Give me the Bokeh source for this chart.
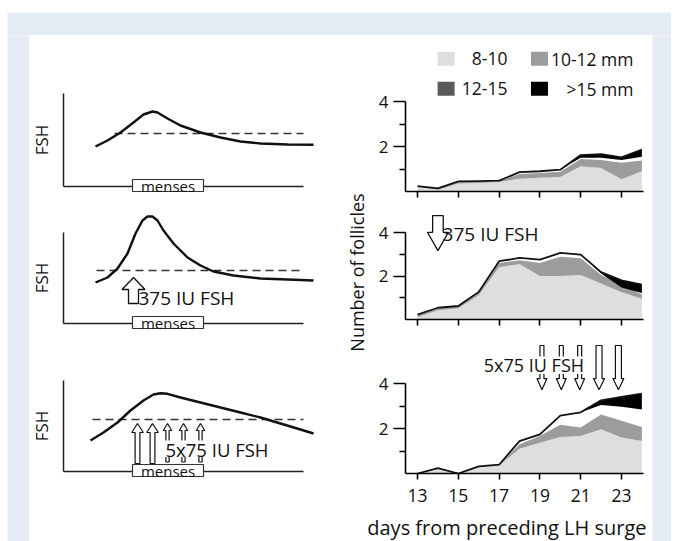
import math
from bokeh.plotting import figure
from bokeh.layouts import column, row
from bokeh.models import Spacer, Range1d, FixedTicker, LinearAxis
from bokeh.core.properties import value
from bokeh.embed import file_html
from bokeh.resources import INLINE

FONT = "Open Sans"
BLUE = "#e4ebf5"
LIGHT = "#dedede"
MED = "#9c9c9c"
DARK = "#5a5a5a"
BLACK = "#000000"
INK = "#111111"

# ---------------- data: right panels (number of follicles) ----------------
days = [13, 14, 15, 16, 17, 18, 19, 20, 21, 22, 23, 24]
day_ticks = [13, 15, 17, 19, 21, 23]
count_ticks = [2, 4]
count_minor = [1, 3]

# cumulative boundaries of the stacked areas, panel A (no treatment)
a_light = [0.20, 0.08, 0.36, 0.38, 0.42, 0.57, 0.61, 0.65, 1.12, 1.05, 0.54, 0.90]
a_med = [0.22, 0.12, 0.42, 0.44, 0.46, 0.78, 0.82, 0.88, 1.45, 1.40, 1.28, 1.38]
a_black_bot = [0.24, 0.14, 0.45, 0.46, 0.48, 0.86, 0.90, 0.97, 1.50, 1.50, 1.40, 1.55]
a_total = [0.24, 0.14, 0.45, 0.46, 0.48, 0.86, 0.90, 0.97, 1.62, 1.66, 1.52, 1.86]

# panel B (375 IU FSH on day 14)
b_light = [0.10, 0.42, 0.52, 1.12, 2.40, 2.55, 2.00, 2.00, 2.05, 1.65, 1.25, 0.95]
b_med = [0.18, 0.50, 0.60, 1.20, 2.60, 2.72, 2.60, 2.88, 2.82, 2.05, 1.60, 1.15]
b_black_bot = [0.22, 0.54, 0.62, 1.26, 2.68, 2.83, 2.75, 3.06, 2.98, 2.12, 1.47, 1.22]
b_total = [0.22, 0.54, 0.62, 1.26, 2.68, 2.83, 2.75, 3.06, 2.98, 2.18, 1.80, 1.60]

# panel C (5 x 75 IU FSH)
c_light = [0.00, 0.20, 0.00, 0.28, 0.35, 1.10, 1.37, 1.62, 1.67, 1.97, 1.60, 1.44]
c_med = [0.00, 0.22, 0.00, 0.30, 0.37, 1.30, 1.67, 2.17, 2.05, 2.62, 2.35, 2.07]
c_black_bot = [0.00, 0.24, 0.00, 0.32, 0.39, 1.44, 1.74, 2.57, 2.72, 3.05, 2.97, 2.84]
c_total = [0.00, 0.24, 0.00, 0.32, 0.39, 1.44, 1.74, 2.57, 2.72, 3.25, 3.40, 3.55]

b_inj_day = [14.0]
c_inj_day = [19.1, 20.05, 20.95, 21.9, 22.85]
c_inj_long = [False, False, False, True, True]

legend_labels = ["8-10", "10-12 mm", "12-15", ">15 mm"]
legend_colors = [LIGHT, MED, DARK, BLACK]

# ---------------- data: left schematic panels (FSH course) ----------------
fsh1_x = [32, 44, 57, 70, 80, 89, 94, 104, 117, 137, 157, 177, 197, 224, 250]
fsh1_y = [40, 46, 54, 64, 72, 75, 74, 68, 61, 54, 49, 45, 43, 42, 41.7]
fsh2_x = [32, 44, 54, 64, 72, 79, 84, 89, 94, 100, 110, 124, 137, 150, 170, 197, 224, 250]
fsh2_y = [41, 46, 55, 70, 90, 103, 107, 107, 103, 93, 80, 66, 58, 52, 48, 45, 44, 43]
fsh3_x = [27, 40, 54, 67, 80, 90, 97, 104, 117, 137, 157, 177, 197, 217, 237, 250]
fsh3_y = [31, 39, 49, 61, 71, 77, 78.3, 77.7, 74, 69, 64, 59, 54, 48, 42, 38]
threshold = [53, 53, 52]
threshold_start = [51, 33, 29]
threshold_end = 240
menses_start, menses_end = 69, 140
fsh_axis_len = [93, 91, 91]
inj2_x = [70]
inj3_x = [74, 89, 104, 120, 137]
inj3_long = [True, True, False, False, False]


def arrow(xc, tail, base, tip, shw, hhw):
    return ([xc - shw, xc - shw, xc - hhw, xc, xc + hhw, xc + shw, xc + shw],
            [tail, base, base, tip, base, base, tail])


def txt(p, x, y, s, size, align="left", baseline="middle", angle=0.0, level="glyph"):
    r = p.text(x=[x], y=[y], text=[s], text_font=value(FONT), text_font_size=value(size),
               text_align=align, text_baseline=baseline, text_color=INK, angle=angle)
    r.level = level
    return r


def blank(w, h, color):
    p = figure(width=w, height=h, x_axis_type=None, y_axis_type=None, toolbar_location=None,
               output_backend="svg", min_border=0, background_fill_color=color,
               border_fill_color=color, outline_line_color=None)
    return p


# ---------------- left panels ----------------
def left_panel(idx, h, y_lo, xs, ys):
    p = figure(width=306, height=h, x_range=Range1d(-34, 272), y_range=Range1d(y_lo, y_lo + h),
               x_axis_type=None, y_axis_type=None, toolbar_location=None, output_backend="svg",
               min_border=0, outline_line_color=None)
    xa = LinearAxis(fixed_location=0, bounds=(0, 240), ticker=FixedTicker(ticks=[]),
                    major_tick_out=0, major_tick_in=0, major_label_standoff=0,
                    axis_line_width=1.5, axis_line_color="#222222")
    p.add_layout(xa, "below")
    ya = LinearAxis(fixed_location=0, bounds=(0, fsh_axis_len[idx]), ticker=FixedTicker(ticks=[]),
                    major_tick_out=0, major_tick_in=0, major_label_standoff=0,
                    axis_line_width=1.5, axis_line_color="#222222",
                    axis_label="FSH", axis_label_text_font=FONT, axis_label_text_font_size="17px",
                    axis_label_text_font_style="normal", axis_label_text_color=INK,
                    axis_label_standoff=11)
    p.add_layout(ya, "left")
    p.line([threshold_start[idx], threshold_end], [threshold[idx], threshold[idx]],
           line_color="#333333", line_width=1.5, line_dash="8 5")
    p.line(xs, ys, line_color=INK, line_width=2.4, line_join="round")
    box = p.quad(left=[menses_start], right=[menses_end], bottom=[-5], top=[7],
                 fill_color="white", line_color="#333333", line_width=1.2)
    box.level = "overlay"
    txt(p, (menses_start + menses_end) / 2, 1, "menses", "15px", align="center", level="overlay")
    return p


l1 = left_panel(0, 165, -14, fsh1_x, fsh1_y)
l2 = left_panel(1, 140, -17, fsh2_x, fsh2_y)
l3 = left_panel(2, 201, -70, fsh3_x, fsh3_y)

ax, ay = [], []
for xc in inj2_x:
    a = arrow(xc, 20, 34, 46, 5, 11.5)
    ax.append(a[0]); ay.append(a[1])
l2.patches(ax, ay, fill_color="white", line_color=INK, line_width=1.3)
txt(l2, 75, 26, "375 IU FSH", "19px")

ax, ay = [], []
for xc, lg in zip(inj3_x, inj3_long):
    if lg:
        a = arrow(xc, 8, 39, 48, 2.4, 5.8)
    else:
        a = arrow(xc, 9.5, 41, 48, 1.6, 4.2)
    ax.append(a[0]); ay.append(a[1])
l3.patches(ax, ay, fill_color="white", line_color=INK, line_width=1.2)
l3.quad(left=[100], right=[207], bottom=[14.5], top=[31], fill_color="white", line_color=None)
txt(l3, 102, 22.5, "5x75 IU FSH", "18.5px")

# ---------------- right panels ----------------
XR = (12.41, 24.08)
PXD = 1 / 20.4


def right_panel(h, bottom_border, ymax, light, med, black_bot, total, last=False):
    p = figure(width=282, height=h, x_range=Range1d(*XR), y_range=Range1d(0, ymax),
               toolbar_location=None, output_backend="svg",
               min_border_left=35, min_border_right=9, min_border_top=0,
               min_border_bottom=bottom_border, outline_line_color=None)
    p.grid.visible = False
    p.varea(x=days, y1=[0] * len(days), y2=light, fill_color=LIGHT)
    p.varea(x=days, y1=light, y2=med, fill_color=MED)
    p.varea(x=days, y1=black_bot, y2=total, fill_color=BLACK)
    p.line(days, total, line_color=INK, line_width=1.8, line_join="round")

    ya = p.yaxis[0]
    ya.ticker = FixedTicker(ticks=count_ticks, minor_ticks=count_minor)
    ya.bounds = (0, 4)
    ya.major_tick_out = 12
    ya.major_tick_in = 0
    ya.minor_tick_out = 6
    ya.minor_tick_in = 0
    ya.major_label_standoff = 5
    ya.major_label_text_font = FONT
    ya.major_label_text_font_size = "17px"
    ya.major_label_text_color = INK
    ya.axis_line_width = 1.6
    ya.major_tick_line_width = 1.6
    ya.minor_tick_line_width = 1.6

    xa = p.xaxis[0]
    xa.axis_line_width = 1.6
    if last:
        xa.ticker = FixedTicker(ticks=day_ticks, minor_ticks=[])
        xa.major_tick_out = 6
        xa.major_tick_in = 0
        xa.major_tick_line_width = 1.6
        xa.major_label_text_font = FONT
        xa.major_label_text_font_size = "17.5px"
        xa.major_label_text_color = INK
        xa.major_label_standoff = 9
    else:
        # unlabelled day ticks
        xa.ticker = FixedTicker(ticks=[], minor_ticks=day_ticks)
        xa.minor_tick_out = 6
        xa.minor_tick_in = 0
        xa.minor_tick_line_width = 1.6
        xa.major_label_standoff = 0
    return p


r1 = right_panel(168, 12, 156 / 22.5, a_light, a_med, a_black_bot, a_total)
r2 = right_panel(129, 13, 116 / 21.75, b_light, b_med, b_black_bot, b_total)
r3 = right_panel(180, 39, 141 / 22.5, c_light, c_med, c_black_bot, c_total, last=True)

# legend (drawn in panel A)
leg_sq_x = [14.4, 18.98, 14.4, 18.98]
leg_y = [5.9, 5.9, 4.57, 4.57]
leg_txt_x = [17.41, 23.59, 17.41, 23.59]
r1.rect(x=leg_sq_x, y=leg_y, width=17, height=14, width_units="screen", height_units="screen",
        fill_color=legend_colors, line_color=None)
r1.text(x=leg_txt_x, y=leg_y, text=legend_labels, text_font=value(FONT),
        text_font_size=value("17.5px"), text_align="right", text_baseline="middle", text_color=INK)

# panel B: single injection
ax, ay = [], []
for d in b_inj_day:
    a = arrow(d, 4.78, 4.01, 3.17, 5.3 * PXD, 10.5 * PXD)
    ax.append(a[0]); ay.append(a[1])
r2.patches(ax, ay, fill_color="white", line_color=INK, line_width=1.3)
txt(r2, 14.23, 3.94, "375 IU FSH", "19px")

# panel C: 5 injections
ax, ay = [], []
for d, lg in zip(c_inj_day, c_inj_long):
    if lg:
        a = arrow(d, 5.69, 4.22, 3.72, 3.0 * PXD, 5.5 * PXD)
    else:
        a = arrow(d, 5.69, 4.22, 3.72, 2.0 * PXD, 5.0 * PXD)
    ax.append(a[0]); ay.append(a[1])
r3.patches(ax, ay, fill_color="white", line_color=INK, line_width=1.2)
r3.quad(left=[16.15], right=[21.3], bottom=[4.42], top=[5.2], fill_color="white", line_color=None)
txt(r3, 16.25, 4.84, "5x75 IU FSH", "18px")

# y-axis title shared by the three right panels
lab = figure(width=35, height=477, x_range=Range1d(0, 35), y_range=Range1d(0, 477),
             x_axis_type=None, y_axis_type=None, toolbar_location=None, output_backend="svg",
             min_border=0, outline_line_color=None)
txt(lab, 21, 240, "Number of follicles", "18px", align="center", angle=math.pi / 2)

# x-axis title under the right panels
xt = figure(width=317, height=29, x_range=Range1d(0, 317), y_range=Range1d(0, 29),
            x_axis_type=None, y_axis_type=None, toolbar_location=None, output_backend="svg",
            min_border=0, outline_line_color=None)
txt(xt, 311, 14.5, "days from preceding LH surge", "20px", align="right")

right_block = column(row(lab, column(r1, r2, r3)), xt)

page = column(
    Spacer(width=674, height=12),
    row(Spacer(width=7, height=23), blank(664, 23, BLUE)),
    row(Spacer(width=7, height=506), blank(22, 506, BLUE),
        column(l1, l2, l3), right_block, blank(19, 506, BLUE)),
)

open("out.html", "w").write(file_html(page, INLINE))
